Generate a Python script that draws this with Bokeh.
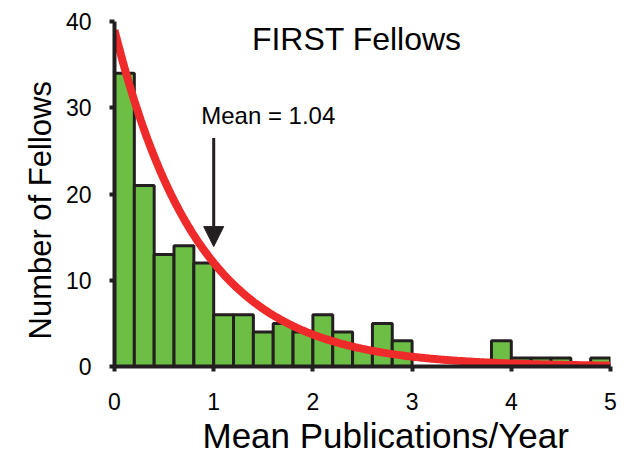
import numpy as np
from bokeh.plotting import figure
from bokeh.models import Range1d, Label, Arrow, NormalHead, FixedTicker, ColumnDataSource, Title
from bokeh.embed import file_html
from bokeh.resources import INLINE

# ---- data ----
bin_left = [0.0, 0.2, 0.4, 0.6, 0.8, 1.0, 1.2, 1.4, 1.6, 1.8,
            2.0, 2.2, 2.4, 2.6, 2.8, 3.0, 3.2, 3.4, 3.6, 3.8,
            4.0, 4.2, 4.4, 4.6, 4.8]
bin_width = 0.2
counts = [34, 21, 13, 14, 12, 6, 6, 4, 5, 4,
          6, 4, 2, 5, 3, 0, 0, 0, 0, 3,
          1, 1, 1, 0, 1]
x_ticks = [0, 1, 2, 3, 4, 5]
y_ticks = [0, 10, 20, 30, 40]
fit_amplitude = 39.0   # exponential fit drawn in red
fit_scale = 0.85
mean_text = "Mean = 1.04"
arrow_x = 1.0
title_text = "FIRST Fellows"
x_title = "Mean Publications/Year"
y_title = "Number of Fellows"

DARK = "#231f20"
GREEN = "#6dbe45"
RED = "#ee2a2b"
FONT = "Liberation Sans"

p = figure(width=620, height=458, output_backend="svg", toolbar_location=None,
           x_range=Range1d(0, 5), y_range=Range1d(0, 40),
           min_border_left=114, min_border_right=10, min_border_top=21, min_border_bottom=92)
p.grid.visible = False
p.outline_line_color = None
p.background_fill_color = "white"
p.border_fill_color = "white"

left = np.array(bin_left)
src = ColumnDataSource(dict(left=left, right=left + bin_width,
                            top=np.array(counts, dtype=float), bottom=np.zeros(len(counts))))
p.quad(left="left", right="right", top="top", bottom="bottom", source=src,
       fill_color=GREEN, line_color=DARK, line_width=3)

xs = np.linspace(0, 5, 300)
p.line(xs, fit_amplitude * np.exp(-xs / fit_scale), line_color=RED, line_width=8)

for ax in (p.xaxis[0], p.yaxis[0]):
    ax.axis_line_width = 4
    ax.axis_line_color = DARK
    ax.major_tick_line_width = 4
    ax.major_tick_line_color = DARK
    ax.major_tick_out = 5
    ax.major_tick_in = 0
    ax.minor_tick_line_color = None
    ax.major_label_text_font = FONT
    ax.major_label_text_font_size = "23px"
    ax.major_label_text_color = "black"

p.xaxis[0].ticker = FixedTicker(ticks=x_ticks)
p.yaxis[0].ticker = FixedTicker(ticks=y_ticks)
p.xaxis[0].major_label_standoff = 21
p.yaxis[0].major_label_standoff = 18

p.add_layout(Arrow(end=NormalHead(size=20, fill_color=DARK, line_color=DARK),
                   x_start=arrow_x, y_start=26.5, x_end=arrow_x, y_end=13.9,
                   line_width=3, line_color=DARK))

p.add_layout(Label(x=0.874, y=29.05, text=mean_text, text_font=FONT,
                   text_font_size="24px", text_color="black", text_baseline="alphabetic"))
p.add_layout(Label(x=1.385, y=37.95, text=title_text, text_font=FONT,
                   text_font_size="32px", text_color="black", text_baseline="alphabetic"))

p.add_layout(Title(text=x_title, text_font=FONT, text_font_size="35px",
                   text_font_style="normal", text_color="black",
                   align="left", offset=88, standoff=2), "below")
p.add_layout(Title(text=y_title, text_font=FONT, text_font_size="31px",
                   text_font_style="normal", text_color="black",
                   align="left", offset=27, standoff=9), "left")

open("out.html", "w").write(file_html(p, INLINE))
